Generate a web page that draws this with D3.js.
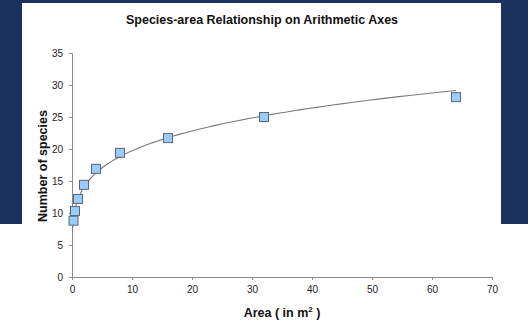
<!DOCTYPE html>
<html><head><meta charset="utf-8">
<script src="https://cdn.jsdelivr.net/npm/d3@7"></script>
<style>body{margin:0;background:#fff}svg{display:block}</style>
</head><body>
<svg id="c" width="528" height="324"></svg>
<script>
const areas = [0.25, 0.5, 1, 2, 4, 8, 16, 32, 64];
const species = [8.8, 10.3, 12.2, 14.4, 16.9, 19.4, 21.7, 25.0, 28.1];
const xTicks = [0, 10, 20, 30, 40, 50, 60, 70];
const yTicks = [0, 5, 10, 15, 20, 25, 30, 35];
const title = "Species-area Relationship on Arithmetic Axes";
const yLabel = "Number of species";

const svg = d3.select("#c");
// navy frame
svg.append("rect").attr("x",0).attr("y",0).attr("width",528).attr("height",224).attr("fill","#1c325e");
svg.append("rect").attr("x",22).attr("y",3).attr("width",479).attr("height",221).attr("fill","#fff");

const x = d3.scaleLinear().domain([0,70]).range([72,492]);
const y = d3.scaleLinear().domain([0,35]).range([277,53]);

const font = "Liberation Sans, Arial, sans-serif";

const xa = svg.append("g").attr("transform","translate(0,277)")
  .call(d3.axisBottom(x).tickValues(xTicks).tickSize(3).tickPadding(6));
const ya = svg.append("g").attr("transform","translate(72,0)")
  .call(d3.axisLeft(y).tickValues(yTicks).tickSize(3).tickPadding(6));
[xa,ya].forEach(g=>{
  g.selectAll("path,line").attr("stroke","#8a8a8a");
  g.selectAll("text").attr("fill","#222").style("font-family",font).style("font-size","10px");
});

// power trendline fit from data (log-log least squares)
const lx = areas.map(Math.log), ly = species.map(Math.log);
const mx = d3.mean(lx), my = d3.mean(ly);
const b = d3.sum(lx.map((v,i)=>(v-mx)*(ly[i]-my))) / d3.sum(lx.map(v=>(v-mx)*(v-mx)));
const a = Math.exp(my - b*mx);
const trendX = d3.range(0, 201).map(i => 0.1 * Math.pow(640, i/200));
svg.append("path")
  .attr("d", d3.line().x(d=>x(d)).y(d=>y(a*Math.pow(d,b)))(trendX))
  .attr("fill","none").attr("stroke","#7a7a7a").attr("stroke-width",1.1);

svg.selectAll("rect.pt").data(areas).join("rect").attr("class","pt")
  .attr("x",(d)=>x(d)-4.5).attr("y",(d,i)=>y(species[i])-4.5)
  .attr("width",9).attr("height",9)
  .attr("fill","#99ccff").attr("stroke","#5b6577").attr("stroke-width",1);

svg.append("text").attr("x",262).attr("y",24).attr("text-anchor","middle")
  .style("font-family",font).style("font-size","12.5px").style("font-weight","bold").attr("fill","#111")
  .text(title);

svg.append("text").attr("transform","translate(47,166) rotate(-90)").attr("text-anchor","middle")
  .style("font-family",font).style("font-size","12.5px").style("font-weight","bold").attr("fill","#111")
  .text(yLabel);

const xl = svg.append("text").attr("x",282).attr("y",317).attr("text-anchor","middle")
  .style("font-family",font).style("font-size","12.5px").style("font-weight","bold").attr("fill","#111");
xl.append("tspan").text("Area ( in m");
xl.append("tspan").attr("dy",-5).style("font-size","8px").text("2");
xl.append("tspan").attr("dy",5).text(" )");
</script>
</body></html>
